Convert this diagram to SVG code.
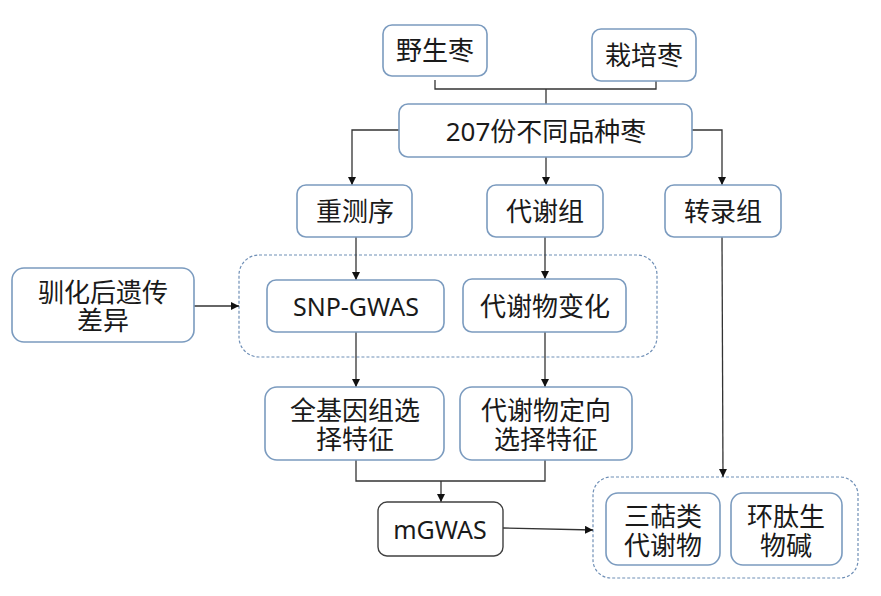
<svg xmlns="http://www.w3.org/2000/svg" width="881" height="596" viewBox="0 0 881 596">
<style>
.box{fill:#fff;stroke:#7b9bbf;stroke-width:1.6}
.dark{fill:#fff;stroke:#404040;stroke-width:1.4}
.cont{fill:none;stroke:#6f8fb6;stroke-width:1.2;stroke-dasharray:3,2}
.t{font-family:"Noto Sans","Noto Sans CJK SC",sans-serif;font-size:26px;fill:#1a1a1a;text-anchor:middle;dominant-baseline:central}
.l{font-size:25px}
.ln{fill:none;stroke:#333;stroke-width:1.3}
</style>
<defs>
<marker id="ar" viewBox="0 0 10 10" refX="10" refY="5" markerWidth="8" markerHeight="8" markerUnits="userSpaceOnUse" orient="auto">
<path d="M0,0 L10,5 L0,10 Z" fill="#111"/>
</marker>
</defs>
<rect width="881" height="596" fill="#fff"/>
<g id="containers">
<rect class="cont" x="239" y="255" width="418" height="102" rx="20"/>
<rect class="cont" x="593" y="477" width="265" height="101" rx="18"/>
</g>
<g id="connectors">
<path class="ln" d="M435,80 V89 H656 V81"/>
<path class="ln" d="M546,89 V104"/>
<path class="ln" d="M399,130 H352 V185" marker-end="url(#ar)"/>
<path class="ln" d="M546,157 V185" marker-end="url(#ar)"/>
<path class="ln" d="M692,130 H722 V185" marker-end="url(#ar)"/>
<path class="ln" d="M356,237 V280" marker-end="url(#ar)"/>
<path class="ln" d="M545,237 V279" marker-end="url(#ar)"/>
<path class="ln" d="M194,306 H239" marker-end="url(#ar)"/>
<path class="ln" d="M356,332 V387" marker-end="url(#ar)"/>
<path class="ln" d="M545,332 V387" marker-end="url(#ar)"/>
<path class="ln" d="M356,460 V481 H545 V460"/>
<path class="ln" d="M441,481 V502" marker-end="url(#ar)"/>
<path class="ln" d="M503,528 L593,530" marker-end="url(#ar)"/>
<path class="ln" d="M722,237 L723,477" marker-end="url(#ar)"/>
</g>
<g id="n_wild"><rect class="box" x="383" y="25" width="104" height="51" rx="9"/><text class="t" x="435" y="50">野生枣</text></g>
<g id="n_cult"><rect class="box" x="592" y="29" width="104" height="52" rx="9"/><text class="t" x="644" y="55">栽培枣</text></g>
<g id="n_207"><rect class="box" x="399" y="104" width="293" height="53" rx="9"/><text class="t" x="546" y="131">207份不同品种枣</text></g>
<g id="n_reseq"><rect class="box" x="297" y="185" width="115" height="52" rx="9"/><text class="t" x="355" y="211">重测序</text></g>
<g id="n_metab"><rect class="box" x="487" y="185" width="116" height="52" rx="9"/><text class="t" x="545" y="211">代谢组</text></g>
<g id="n_trans"><rect class="box" x="665" y="185" width="116" height="52" rx="9"/><text class="t" x="723" y="211">转录组</text></g>
<g id="n_domest"><rect class="box" x="12" y="268" width="182" height="74" rx="12"/><text class="t" x="103" y="292">驯化后遗传</text><text class="t" x="103" y="320">差异</text></g>
<g id="n_snp"><rect class="box" x="267" y="280" width="177" height="52" rx="9"/><text class="t l" x="356" y="306">SNP-GWAS</text></g>
<g id="n_mchange"><rect class="box" x="463" y="279" width="163" height="53" rx="9"/><text class="t" x="545" y="306">代谢物变化</text></g>
<g id="n_gsel"><rect class="box" x="265" y="387" width="179" height="73" rx="12"/><text class="t" x="355" y="410">全基因组选</text><text class="t" x="355" y="439">择特征</text></g>
<g id="n_msel"><rect class="box" x="460" y="387" width="172" height="73" rx="12"/><text class="t" x="546" y="410">代谢物定向</text><text class="t" x="546" y="439">选择特征</text></g>
<g id="n_mgwas"><rect class="dark" x="378" y="502" width="125" height="54" rx="9"/><text class="t l" x="440" y="529">mGWAS</text></g>
<g id="n_triterp"><rect class="box" x="606" y="493" width="114" height="72" rx="12"/><text class="t" x="663" y="516">三萜类</text><text class="t" x="663" y="545">代谢物</text></g>
<g id="n_cyclo"><rect class="box" x="731" y="493" width="111" height="72" rx="12"/><text class="t" x="786" y="516">环肽生</text><text class="t" x="786" y="545">物碱</text></g>
</svg>
